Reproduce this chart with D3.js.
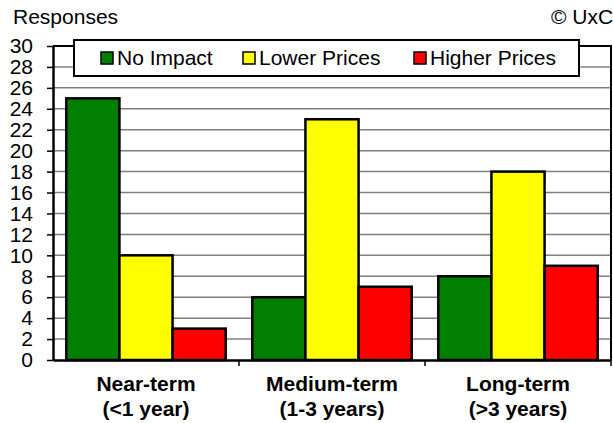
<!DOCTYPE html>
<html lang="en">
  <head>
    <meta charset="UTF-8" />
    <title>Price impact responses</title>
    <style>
      body { margin: 0; background: #fff; font-family: Arial, "Liberation Sans", sans-serif; }
    </style>
    <script src="https://d3js.org/d3.v7.min.js"></script>
  </head>
  <body>
  </body>
  <script>
    const categories = ["Near-term|(<1 year)", "Medium-term|(1-3 years)", "Long-term|(>3 years)"]
    const seriesNames = ["No Impact", "Lower Prices", "Higher Prices"]
    const seriesColors = ["#007f00", "#ffff00", "#ff0000"]
    const noImpact = [25, 6, 8]
    const lowerPrices = [10, 23, 18]
    const higherPrices = [3, 7, 9]
    const yTicks = d3.range(0, 31, 2)

    const values = [noImpact, lowerPrices, higherPrices]

    const width = 613, height = 423
    const margin = { top: 46, right: 2, bottom: 63, left: 53 }
    const font = "Arial, 'Liberation Sans', sans-serif"

    const svg = d3.select("body").append("svg")
        .attr("width", width)
        .attr("height", height)
        .style("font-family", font)

    const x = d3.scaleBand()
        .domain(categories)
        .range([margin.left, width - margin.right])

    const inner = d3.scaleBand()
        .domain(seriesNames)
        .range([0, x.bandwidth()])
        .paddingOuter(0.25)

    const y = d3.scaleLinear()
        .domain([0, 30])
        .range([height - margin.bottom, margin.top])

    // gridlines
    svg.append("g")
        .selectAll("line")
        .data(yTicks.filter(d => d > 0 && d < 30))
        .enter().append("line")
        .attr("x1", margin.left)
        .attr("x2", width - margin.right)
        .attr("y1", d => y(d))
        .attr("y2", d => y(d))
        .attr("stroke", "#808080")
        .attr("stroke-width", 1.5)

    // plot frame (top and right)
    svg.append("path")
        .attr("d", `M${margin.left},${y(30)}H${width - margin.right}V${y(0)}`)
        .attr("fill", "none")
        .attr("stroke", "#000")
        .attr("stroke-width", 2)

    // bars
    seriesNames.forEach((s, i) => {
      svg.append("g")
        .selectAll("rect")
        .data(values[i])
        .enter().append("rect")
        .attr("x", (d, j) => x(categories[j]) + inner(s))
        .attr("y", d => y(d))
        .attr("width", inner.bandwidth())
        .attr("height", d => y(0) - y(d))
        .attr("fill", seriesColors[i])
        .attr("stroke", "#000")
        .attr("stroke-width", 2.5)
    })

    // y axis
    const yAxis = svg.append("g")
        .attr("transform", `translate(${margin.left},0)`)
        .call(d3.axisLeft(y).tickValues(yTicks).tickSize(6).tickSizeOuter(0))
    yAxis.select(".domain").attr("stroke", "#000").attr("stroke-width", 2.5)
    yAxis.selectAll(".tick line").attr("stroke", "#000").attr("stroke-width", 1.5)
    yAxis.selectAll("text")
        .attr("x", -20)
        .attr("font-size", "21px")
        .attr("font-family", font)
        .attr("fill", "#000")

    // x axis
    const xAxis = svg.append("g")
        .attr("transform", `translate(0,${y(0)})`)
        .call(d3.axisBottom(x).tickSize(0).tickFormat(""))
    xAxis.select(".domain").attr("stroke", "#000").attr("stroke-width", 2.5)

    // category separators
    svg.append("g")
        .selectAll("line")
        .data(categories)
        .enter().append("line")
        .attr("x1", d => x(d) + x.bandwidth())
        .attr("x2", d => x(d) + x.bandwidth())
        .attr("y1", y(0))
        .attr("y2", y(0) + 6)
        .attr("stroke", "#000")
        .attr("stroke-width", 1.5)

    // category labels
    const catLabels = svg.append("g")
        .selectAll("text")
        .data(categories)
        .enter().append("text")
        .attr("x", d => x(d) + x.bandwidth() / 2)
        .attr("y", y(0) + 31)
        .attr("text-anchor", "middle")
        .attr("font-size", "21px")
        .attr("font-weight", "bold")
    catLabels.selectAll("tspan")
        .data(d => d.split("|"))
        .enter().append("tspan")
        .attr("x", function () { return d3.select(this.parentNode).attr("x") })
        .attr("dy", (d, i) => i === 0 ? 0 : 25)
        .text(d => d)

    // titles
    svg.append("text")
        .attr("x", 13)
        .attr("y", 24)
        .attr("font-size", "21px")
        .text("Responses")

    svg.append("text")
        .attr("x", 551)
        .attr("y", 24)
        .attr("font-size", "21px")
        .text("© UxC")

    // legend
    const legend = svg.append("g")
    legend.append("rect")
        .attr("x", 74)
        .attr("y", 40)
        .attr("width", 505)
        .attr("height", 36)
        .attr("fill", "#fff")
        .attr("stroke", "#000")
        .attr("stroke-width", 2)

    const legendX = [101, 243, 414]
    seriesNames.forEach((s, i) => {
      legend.append("rect")
        .attr("x", legendX[i])
        .attr("y", 52)
        .attr("width", 12)
        .attr("height", 12)
        .attr("fill", seriesColors[i])
        .attr("stroke", "#000")
        .attr("stroke-width", 1.5)
      legend.append("text")
        .attr("x", legendX[i] + 16)
        .attr("y", 65)
        .attr("font-size", "21px")
        .text(s)
    })
  </script>
</html>
